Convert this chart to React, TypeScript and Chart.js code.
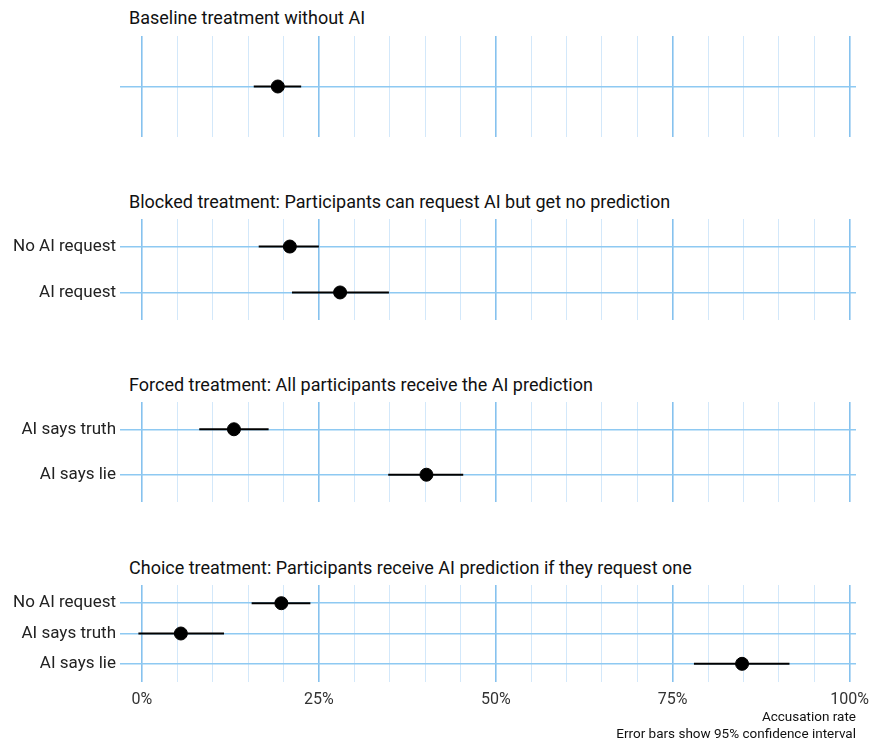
import React, { useEffect, useRef } from "react";
import { Chart, registerables } from "chart.js";

Chart.register(...registerables);

// ---- data ----
const xTicks = [0, 5, 10, 15, 20, 25, 30, 35, 40, 45, 50, 55, 60, 65, 70, 75, 80, 85, 90, 95, 100];

const baselineTitle = "Baseline treatment without AI";
const baselineCats = [""];
const baselineVals = [19.2];
const baselineLo = [15.8];
const baselineHi = [22.5];

const blockedTitle = "Blocked treatment: Participants can request AI but get no prediction";
const blockedCats = ["No AI request", "AI request"];
const blockedVals = [20.9, 28.0];
const blockedLo = [16.5, 21.2];
const blockedHi = [25.0, 34.9];

const forcedTitle = "Forced treatment: All participants receive the AI prediction";
const forcedCats = ["AI says truth", "AI says lie"];
const forcedVals = [13.0, 40.2];
const forcedLo = [8.1, 34.8];
const forcedHi = [17.9, 45.4];

const choiceTitle = "Choice treatment: Participants receive AI prediction if they request one";
const choiceCats = ["No AI request", "AI says truth", "AI says lie"];
const choiceVals = [19.7, 5.5, 84.8];
const choiceLo = [15.5, -0.5, 78.0];
const choiceHi = [23.8, 11.6, 91.5];

const captionLines = ["Accusation rate", "Error bars show 95% confidence interval"];

// ---- styles ----
const FONT = "Roboto, 'Noto Sans', sans-serif";
const MAJOR = "#86c2ee";
const MINOR = "#d3e8fa";
const HGRID = "#8ec9f2";

type PanelProps = {
  title: string;
  cats: string[];
  vals: number[];
  lo: number[];
  hi: number[];
  areaTop: number;
  areaBottom: number;
  titleY: number;
  last?: boolean;
};

function Panel({ title, cats, vals, lo, hi, areaTop, areaBottom, titleY, last }: PanelProps) {
  const ref = useRef<HTMLCanvasElement | null>(null);
  const padTop = 10;
  const canvasTop = areaTop - padTop;
  const xAxisH = last ? 61 : 0;
  const padBottom = last ? 0 : 10;
  const canvasH = areaBottom - areaTop + padTop + padBottom + xAxisH;

  useEffect(() => {
    if (!ref.current) return;
    const datasets: any[] = [
      {
        data: vals.map((v, i) => ({ x: v, y: i + 1 })),
        backgroundColor: "#000",
        borderColor: "#000",
        pointRadius: 6.5,
        pointHoverRadius: 6.5,
        showLine: false,
      },
    ];
    cats.forEach((_, i) => {
      datasets.push({
        data: [
          { x: lo[i], y: i + 1 },
          { x: hi[i], y: i + 1 },
        ],
        borderColor: "#000",
        borderWidth: 2,
        pointRadius: 0,
        showLine: true,
      });
    });

    const chart = new Chart(ref.current, {
      type: "scatter",
      data: { datasets },
      options: {
        animation: false,
        responsive: false,
        events: [],
        layout: { padding: { top: padTop, bottom: padBottom, left: 0, right: 16 } },
        plugins: { legend: { display: false }, tooltip: { enabled: false }, title: { display: false } },
        scales: {
          x: {
            type: "linear",
            min: -3.1,
            max: 100.9,
            afterBuildTicks: (s: any) => {
              s.ticks = xTicks.map((v) => ({ value: v }));
            },
            afterFit: (s: any) => {
              s.height = xAxisH;
              s.paddingLeft = 0;
              s.paddingRight = 0;
              s.paddingTop = 0;
              s.paddingBottom = 0;
            },
            border: { display: false },
            grid: {
              drawTicks: false,
              color: (c: any) => (c.tick && c.tick.value % 25 === 0 ? MAJOR : MINOR),
              lineWidth: (c: any) => (c.tick && c.tick.value % 25 === 0 ? 1.6 : 1),
            },
            ticks: {
              display: !!last,
              autoSkip: false,
              maxRotation: 0,
              padding: 8,
              color: "#333",
              font: { family: FONT, size: 16 },
              callback: (v: any) => (Number(v) % 25 === 0 ? v + "%" : ""),
            },
            title: {
              display: !!last,
              text: captionLines,
              align: "end",
              color: "#111",
              font: { family: FONT, size: 13.5, lineHeight: 1.25 },
              padding: { top: 0, bottom: 0 },
            },
          },
          y: {
            type: "linear",
            min: 0.4,
            max: cats.length + 0.6,
            reverse: true,
            afterBuildTicks: (s: any) => {
              s.ticks = cats.map((_, i) => ({ value: i + 1 }));
            },
            afterFit: (s: any) => {
              s.width = 120;
              s.paddingTop = 0;
              s.paddingBottom = 0;
              s.paddingLeft = 0;
              s.paddingRight = 0;
            },
            border: { display: false },
            grid: { drawTicks: false, color: HGRID, lineWidth: 1.5 },
            ticks: {
              autoSkip: false,
              padding: 4,
              color: "#222",
              font: { family: FONT, size: 17 },
              callback: (v: any) => cats[Math.round(Number(v)) - 1] ?? "",
            },
          },
        },
      } as any,
    });
    return () => chart.destroy();
  }, []);

  return (
    <>
      <div
        style={{
          position: "absolute",
          left: 129,
          top: titleY - 11,
          lineHeight: "22px",
          fontFamily: FONT,
          fontSize: 18,
          color: "#111",
          whiteSpace: "nowrap",
        }}
      >
        {title}
      </div>
      <canvas
        ref={ref}
        width={872}
        height={canvasH}
        style={{ position: "absolute", left: 0, top: canvasTop, width: 872, height: canvasH }}
      />
    </>
  );
}

export default function App() {
  return (
    <div style={{ position: "absolute", left: 0, top: 0, width: 872, height: 743, background: "#fff", overflow: "hidden" }}>
      <Panel title={baselineTitle} cats={baselineCats} vals={baselineVals} lo={baselineLo} hi={baselineHi} areaTop={36} areaBottom={137} titleY={18} />
      <Panel title={blockedTitle} cats={blockedCats} vals={blockedVals} lo={blockedLo} hi={blockedHi} areaTop={219} areaBottom={320} titleY={202} />
      <Panel title={forcedTitle} cats={forcedCats} vals={forcedVals} lo={forcedLo} hi={forcedHi} areaTop={402} areaBottom={502} titleY={385} />
      <Panel title={choiceTitle} cats={choiceCats} vals={choiceVals} lo={choiceLo} hi={choiceHi} areaTop={585} areaBottom={682} titleY={568} last />
    </div>
  );
}
